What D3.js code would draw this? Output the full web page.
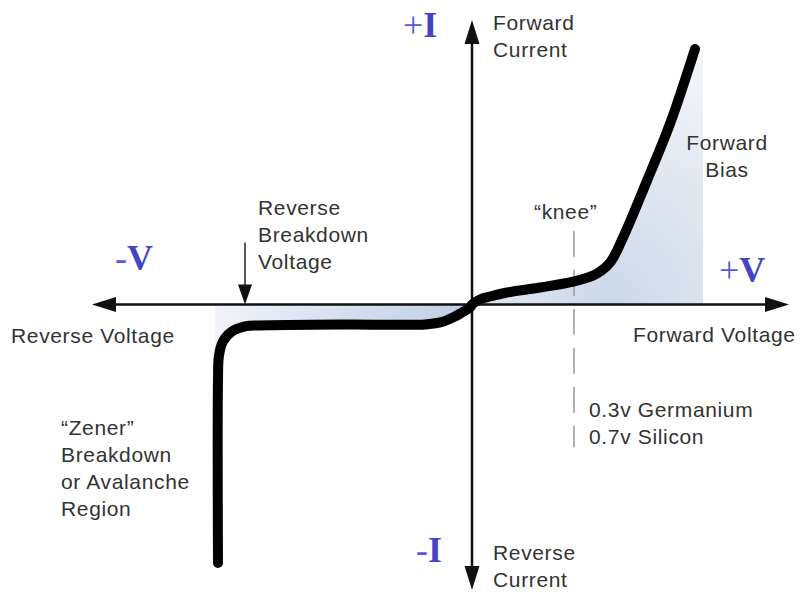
<!DOCTYPE html>
<html>
<head>
<meta charset="utf-8">
<script src="https://cdn.jsdelivr.net/npm/d3@7"></script>
<style>
  body { margin: 0; background: #fff; }
  svg { display: block; }
</style>
</head>
<body>
<div id="chart"></div>
<script>
// diode I-V characteristic, values in arbitrary units
var fwdV = [0, 0.8, 1.8, 3.5, 6.8, 10.1, 12.3, 13.8, 15.1, 17.5, 19.8, 22.3];
var fwdI = [0, 0.5, 0.8, 1.2, 1.7, 2.3, 3.0, 4.2, 6.7, 12.4, 18.1, 25.6];
var revV = [0, -0.2, -1.0, -1.9, -3.2, -4.7, -12.2, -21.2, -22.7, -24.0, -24.9, -25.3, -25.4, -25.4];
var revI = [0, -0.3, -0.8, -1.3, -1.8, -2.0, -2.0, -2.1, -2.2, -2.7, -3.7, -5.1, -7.6, -25.9];

// extents of axes and shaded areas
var vRange = [-38, 31.7];
var iRange = [-28.6, 28.5];
var fwdShade = {v: 23.1, i: 25.9};
var revShade = {v: -25.7, i: -5.1};
var kneeV = 10.2, kneeI = [7.4, -14.3];
var breakdownV = -22.7, breakdownTop = 6.2;

var width = 800, height = 592;

var svg = d3.select("#chart")
  .append("svg")
    .attr("width", width)
    .attr("height", height);

var x = d3.scaleLinear().domain(vRange).range([92, 789]);
var y = d3.scaleLinear().domain(iRange).range([590, 20]);

var defs = svg.append("defs");

var fg = defs.append("radialGradient")
    .attr("id", "fwd-grad")
    .attr("gradientUnits", "userSpaceOnUse")
    .attr("cx", x(13.8)).attr("cy", y(0.5)).attr("r", 270);
fg.append("stop").attr("offset", "0%").attr("stop-color", "#cdd8e8");
fg.append("stop").attr("offset", "100%").attr("stop-color", "#f5f7fa");

var rg = defs.append("linearGradient")
    .attr("id", "rev-grad")
    .attr("gradientUnits", "userSpaceOnUse")
    .attr("x1", x(revShade.v)).attr("y1", 0)
    .attr("x2", x(0)).attr("y2", 0);
rg.append("stop").attr("offset", "0%").attr("stop-color", "#f1f3f8");
rg.append("stop").attr("offset", "100%").attr("stop-color", "#bdcde6");

var fwdPts = fwdV.map(function(v, k) { return [v, fwdI[k]]; });
var revPts = revV.map(function(v, k) { return [v, revI[k]]; });

var line = d3.line()
    .x(function(d) { return x(d[0]); })
    .y(function(d) { return y(d[1]); })
    .curve(d3.curveCatmullRom.alpha(0.5));

// shaded regions
svg.append("path")
    .attr("d", line(fwdPts) +
      "L" + x(fwdShade.v) + "," + y(fwdShade.i) +
      "L" + x(fwdShade.v) + "," + y(0) +
      "L" + x(0) + "," + y(0) + "Z")
    .attr("fill", "url(#fwd-grad)");

var revPart = revPts.filter(function(d) { return d[1] >= revShade.i; });
svg.append("path")
    .attr("d", line(revPart) +
      "L" + x(revShade.v) + "," + y(revShade.i) +
      "L" + x(revShade.v) + "," + y(0) +
      "L" + x(0) + "," + y(0) + "Z")
    .attr("fill", "url(#rev-grad)");

// knee dashed line
svg.append("line")
    .attr("x1", x(kneeV)).attr("x2", x(kneeV))
    .attr("y1", y(kneeI[0])).attr("y2", y(kneeI[1]))
    .attr("stroke", "#999")
    .attr("stroke-width", 1.5)
    .attr("stroke-dasharray", "26,13");

// axes with arrow heads
var axisCol = "#111";
svg.append("line")
    .attr("x1", x(vRange[0]) + 20).attr("x2", x(vRange[1]) - 20)
    .attr("y1", y(0)).attr("y2", y(0))
    .attr("stroke", axisCol).attr("stroke-width", 2.5);
svg.append("line")
    .attr("x1", x(0)).attr("x2", x(0))
    .attr("y1", y(iRange[1]) + 20).attr("y2", y(iRange[0]) - 20)
    .attr("stroke", axisCol).attr("stroke-width", 2.5);

function arrow(tx, ty, dir, len, half) {
  var p;
  if (dir == "left") p = [[tx, ty], [tx + len, ty - half], [tx + len, ty + half]];
  if (dir == "right") p = [[tx, ty], [tx - len, ty - half], [tx - len, ty + half]];
  if (dir == "up") p = [[tx, ty], [tx - half, ty + len], [tx + half, ty + len]];
  if (dir == "down") p = [[tx, ty], [tx - half, ty - len], [tx + half, ty - len]];
  svg.append("path")
    .attr("d", "M" + p.join("L") + "Z")
    .attr("fill", axisCol);
}
arrow(x(vRange[0]), y(0), "left", 24, 7.5);
arrow(x(vRange[1]), y(0), "right", 24, 7.5);
arrow(x(0), y(iRange[1]), "up", 24, 7.5);
arrow(x(0), y(iRange[0]), "down", 24, 7.5);

// breakdown pointer
svg.append("line")
    .attr("x1", x(breakdownV)).attr("x2", x(breakdownV))
    .attr("y1", y(breakdownTop)).attr("y2", y(0) - 10)
    .attr("stroke", "#222").attr("stroke-width", 1.5);
arrow(x(breakdownV), y(0), "down", 20, 7);

// the characteristic curve
svg.append("path")
    .attr("d", line(revPts.slice().reverse().concat(fwdPts.slice(1))))
    .attr("fill", "none")
    .attr("stroke", "#000")
    .attr("stroke-width", 10)
    .attr("stroke-linecap", "round")
    .attr("stroke-linejoin", "round");

// labels
var labels = [
  {t: ["Forward", "Current"], x: 493, y: 30},
  {t: ["Forward", "Bias"], x: 727, y: 150, anchor: "middle"},
  {t: ["\u201Cknee\u201D"], x: 534, y: 219},
  {t: ["Reverse", "Breakdown", "Voltage"], x: 258, y: 215},
  {t: ["Reverse Voltage"], x: 11, y: 343},
  {t: ["Forward Voltage"], x: 633, y: 342},
  {t: ["0.3v Germanium", "0.7v Silicon"], x: 589, y: 417},
  {t: ["\u201CZener\u201D", "Breakdown", "or Avalanche", "Region"], x: 61, y: 435},
  {t: ["Reverse", "Current"], x: 493, y: 560}
];

labels.forEach(function(l) {
  var txt = svg.append("text")
      .attr("x", l.x)
      .attr("y", l.y)
      .attr("text-anchor", l.anchor || "start")
      .style("font-family", "'Liberation Sans', Arial, sans-serif")
      .style("font-size", "21px")
      .style("letter-spacing", "0.65px")
      .style("fill", "#333");
  l.t.forEach(function(s, k) {
    txt.append("tspan")
        .attr("x", l.x)
        .attr("dy", k == 0 ? 0 : 27)
        .text(s);
  });
});

var signs = [
  {s: "+", t: "I", x: 403, y: 37},
  {s: "-", t: "V", x: 115, y: 270},
  {s: "+", t: "V", x: 719, y: 282},
  {s: "-", t: "I", x: 416, y: 562}
];

var sg = svg.selectAll(".sign")
  .data(signs)
  .enter().append("text")
    .attr("class", "sign")
    .attr("x", function(d) { return d.x; })
    .attr("y", function(d) { return d.y; })
    .style("font-family", "'Liberation Serif', 'Times New Roman', serif")
    .style("font-size", "36px");
sg.append("tspan")
    .style("fill", "#5a5ad6")
    .text(function(d) { return d.s; });
sg.append("tspan")
    .style("font-weight", "bold")
    .style("fill", "#4444c6")
    .text(function(d) { return d.t; });
</script>
</body>
</html>
